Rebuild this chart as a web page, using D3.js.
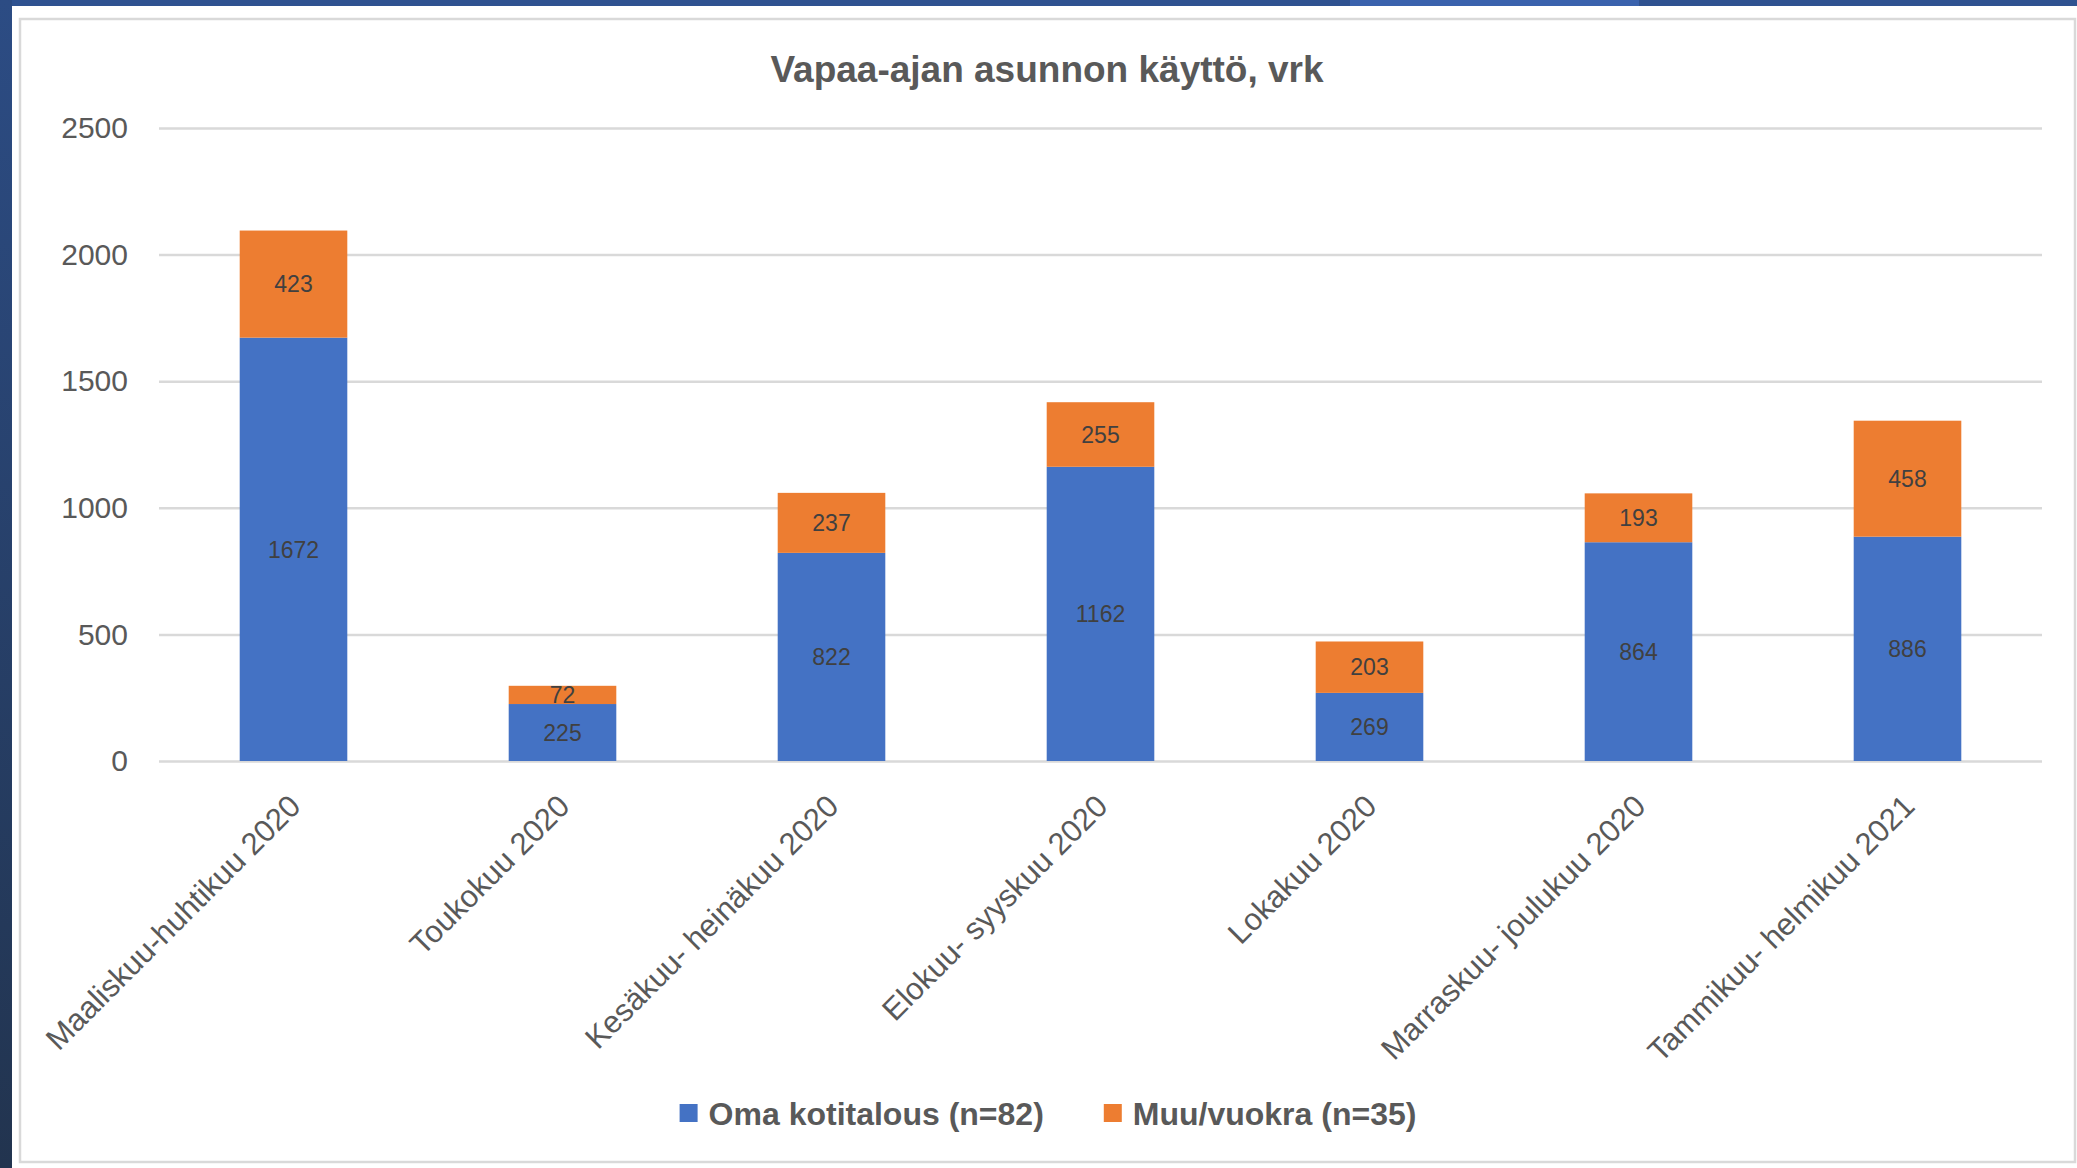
<!DOCTYPE html>
<html lang="fi">
<head>
<meta charset="utf-8">
<title>Vapaa-ajan asunnon käyttö</title>
<script src="https://d3js.org/d3.v7.min.js"></script>
<style>
  body{margin:0;background:#fff;font-family:"Liberation Sans",Arial,sans-serif;}
  #chart1{width:2077px;height:1168px;overflow:hidden;}
</style>
</head>
<body>
<div id="chart1"></div>
<script>
// data
var categories = ["Maaliskuu-huhtikuu 2020","Toukokuu 2020","Kesäkuu- heinäkuu 2020","Elokuu- syyskuu 2020","Lokakuu 2020","Marraskuu- joulukuu 2020","Tammikuu- helmikuu 2021"]
var oma = [1672,225,822,1162,269,864,886]
var muu = [423,72,237,255,203,193,458]
var seriesNames = ["Oma kotitalous (n=82)","Muu/vuokra (n=35)"]
var seriesColors = ["#4472c4","#ed7d31"]
var yTicks = [0,500,1000,1500,2000,2500]
var title = "Vapaa-ajan asunnon käyttö, vrk"

var W = 2077, H = 1168
var plot = {left:159, right:2042, top:128, bottom:761}

var svg = d3.select("#chart1").append("svg")
    .attr("width",W).attr("height",H)

// window frame from the screenshot
var defs = svg.append("defs")
var grad = defs.append("linearGradient").attr("id","side").attr("x1",0).attr("y1",0).attr("x2",0).attr("y2",1)
grad.append("stop").attr("offset","0%").attr("stop-color","#2c4c84")
grad.append("stop").attr("offset","100%").attr("stop-color","#22344f")
svg.append("rect").attr("x",0).attr("y",0).attr("width",W).attr("height",6).attr("fill","#2f5290")
svg.append("rect").attr("x",1350).attr("y",0).attr("width",289).attr("height",6).attr("fill","#3a62ad")
svg.append("rect").attr("x",0).attr("y",0).attr("width",12).attr("height",H).attr("fill","url(#side)")

// chart area border
svg.append("rect").attr("x",20).attr("y",19).attr("width",2055).attr("height",1143)
    .attr("fill","#fff").attr("stroke","#d9d9d9").attr("stroke-width",2.5)

var xScale = d3.scaleBand().domain(categories).range([plot.left,plot.right]).paddingInner(0.6).paddingOuter(0.3)
var yScale = d3.scaleLinear().domain([0,2500]).range([plot.bottom,plot.top])

// gridlines + y labels
var yAxis = svg.append("g").attr("transform","translate("+plot.left+",0)")
    .call(d3.axisLeft(yScale).tickValues(yTicks).tickFormat(d3.format("d"))
        .tickSize(-(plot.right-plot.left)).tickPadding(31))
yAxis.select(".domain").remove()
yAxis.selectAll("line").attr("stroke","#d9d9d9").attr("stroke-width",2.5)
yAxis.selectAll("text").attr("fill","#595959").style("font-size","30px").style("font-family","'Liberation Sans',Arial,sans-serif")

// stacked bars
var rows = categories.map(function(c,i){ return {cat:c, oma:oma[i], muu:muu[i]} })
var stack = d3.stack().keys(["oma","muu"])(rows)

var layers = svg.selectAll("g.layer").data(stack).enter().append("g")
    .attr("class","layer").attr("fill",function(d,i){ return seriesColors[i] })
layers.selectAll("rect").data(function(d){ return d }).enter().append("rect")
    .attr("x",function(d){ return xScale(d.data.cat) })
    .attr("y",function(d){ return yScale(d[1]) })
    .attr("width",xScale.bandwidth())
    .attr("height",function(d){ return yScale(d[0])-yScale(d[1]) })

// value labels in the middle of each piece
layers.selectAll("text").data(function(d){ return d }).enter().append("text")
    .attr("x",function(d){ return xScale(d.data.cat)+xScale.bandwidth()/2 })
    .attr("y",function(d){ return yScale((d[0]+d[1])/2) })
    .attr("dy","0.36em")
    .attr("text-anchor","middle")
    .attr("fill","#404040")
    .style("font-size","23px")
    .text(function(d){ return d[1]-d[0] })

// category labels, turned 45 degrees
var xAxis = svg.append("g").attr("transform","translate(0,"+plot.bottom+")")
    .call(d3.axisBottom(xScale).tickSize(0))
xAxis.select(".domain").remove()
xAxis.selectAll("text")
    .attr("x",0).attr("y",0).attr("dy",null)
    .attr("transform","translate(9,47) rotate(-45)")
    .style("text-anchor","end")
    .attr("fill","#595959")
    .style("font-size","31px")
    .style("font-family","'Liberation Sans',Arial,sans-serif")

// title
svg.append("text").attr("x",1047).attr("y",82).attr("text-anchor","middle")
    .attr("fill","#595959").style("font-size","37px").style("font-weight","bold")
    .text(title)

// legend, centred under the chart
var legend = svg.append("g")
var items = legend.selectAll("g").data(seriesNames).enter().append("g")
items.append("rect").attr("width",18).attr("height",18).attr("y",-9)
    .attr("fill",function(d,i){ return seriesColors[i] })
items.append("text").attr("x",29).attr("dy","0.36em")
    .attr("fill","#595959").style("font-size","32px").style("font-weight","bold")
    .text(function(d){ return d })
var xpos = 0
items.each(function(){
    d3.select(this).attr("transform","translate("+xpos+",0)")
    xpos += 29 + this.querySelector("text").getComputedTextLength() + 60
})
var legendWidth = xpos - 60
legend.attr("transform","translate("+(1048-legendWidth/2)+",1113)")
</script>
</body>
</html>
